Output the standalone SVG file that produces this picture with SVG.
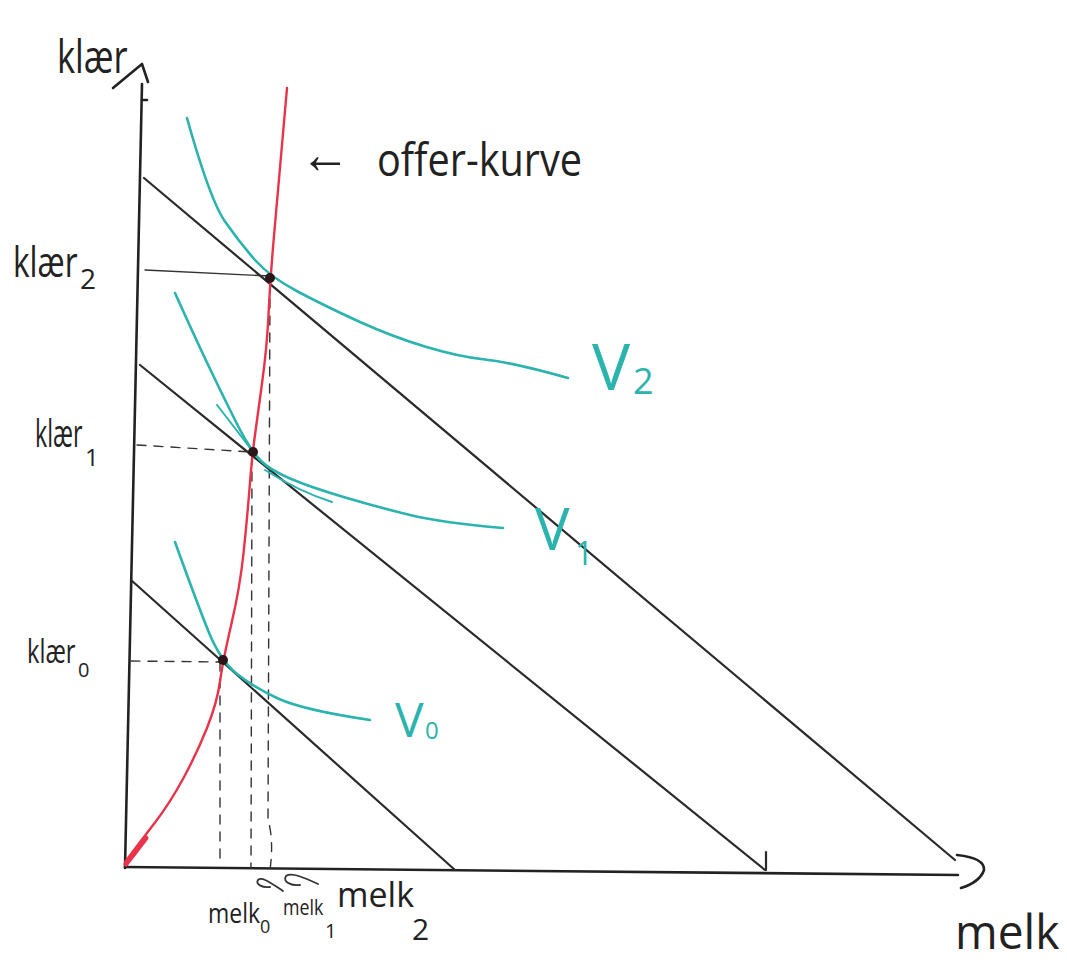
<svg xmlns="http://www.w3.org/2000/svg" width="1067" height="965" viewBox="0 0 1067 965">
<style>
.ax{fill:none;stroke:#222;stroke-width:2.6;stroke-linecap:round;stroke-linejoin:round}
.bl{fill:none;stroke:#2a2a2a;stroke-width:2.2;stroke-linecap:round}
.gd{fill:none;stroke:#333;stroke-width:1.4;stroke-linecap:round}
.dash{stroke-dasharray:9 8}
.red{fill:none;stroke:#e8334a;stroke-width:2.4;stroke-linecap:round}
.teal{fill:none;stroke:#2bb3ad;stroke-width:2.6;stroke-linecap:round}
.t{font-family:"Open Sans","Liberation Sans",sans-serif;font-weight:400;fill:#222}
.tt{font-family:"Open Sans","Liberation Sans",sans-serif;font-weight:400;fill:#2bb3ad}
.pt{fill:#2a1618}
</style>
<rect width="1067" height="965" fill="#ffffff"/>
<g id="axes">
<path class="ax" d="M142,84 L125,868"/>
<path class="ax" d="M113,88 L142,64 L148,82"/>
<path class="ax" d="M125,867 L958,875"/>
<path class="ax" d="M957,855 Q985,858 984,870 Q980,882 961,888"/>
<path class="ax" d="M142,100 L147,100"/>
</g>
<g id="budget-lines">
<path class="bl" d="M144,178 L955,860"/>
<path class="bl" d="M140,365 L765,870"/>
<path class="bl" d="M131,580 L455,870"/>
<path class="bl" d="M766,852 L766,870"/>
</g>
<g id="guides">
<path class="gd" d="M145,270 L270,276"/>
<path class="gd dash" d="M137,445 L252,452"/>
<path class="gd dash" d="M131,661 L221,662"/>
<path class="gd dash" d="M220,662 L220,866"/>
<path class="gd dash" d="M252,455 L251,868"/>
<path class="gd dash" d="M270,282 L268,820 Q274,840 270,870"/>
</g>
<g id="offer-curve">
<path class="red" d="M125,862 Q140,842 155,822.5 Q170,803 183.5,778 Q197,753 207,728 Q217,703 220,681.5 Q223,660 231.5,623.5 Q240,587 243.5,553.5 Q247,520 249.5,488.5 Q252,457 254.5,438.5 Q257,420 262,383.5 Q267,347 268.5,315 Q270,283 273.5,241.5 Q277,200 287,88"/>
<path class="red" style="stroke-width:5" d="M126,864 L146,838"/>
</g>
<g id="indifference-curves">
<path class="teal" d="M187,118 Q210,200 225,221.5 Q240,243 255,260 Q270,277 298.5,292 Q327,307 360,322 Q393,337 426.5,347 Q460,357 485,359.5 Q510,362 568,378"/>
<path class="teal" d="M175,293 Q193,333 206.5,361.5 Q220,390 235,420 Q250,450 260,460 Q270,470 290,478.5 Q310,487 343.5,497 Q377,507 410,515 Q443,523 503,528"/>
<path class="teal" style="stroke-width:2" d="M217,405 Q235,428 250,448 M265,470 Q300,492 332,502"/>
<path class="teal" d="M175,542 Q197,603 208.5,631.5 Q220,660 236.5,673.5 Q253,687 278,698.5 Q303,710 370,720"/>
</g>
<g id="equilibria">
<circle class="pt" cx="270" cy="278" r="5"/>
<circle class="pt" cx="253" cy="452" r="5"/>
<circle class="pt" cx="223" cy="660" r="5"/>
</g>
<g id="marks">
<path class="gd" style="stroke-width:1.8" d="M283,891 C272,884 262,876 258,880 C255,884 262,888 270,887"/>
<path class="gd" style="stroke-width:1.8" d="M318,884 C305,878 292,872 286,876 C282,882 292,886 300,885"/>
</g>
<g id="labels">
<text class="t" transform="translate(57,73) scale(0.75,1)" font-size="46">klær</text>
<text class="t" transform="translate(13,277) scale(0.75,1)" font-size="42">klær</text>
<text class="t" x="80" y="289" font-size="28">2</text>
<text class="t" transform="translate(35,447) scale(0.61,1)" font-size="38">klær</text>
<text class="t" x="85" y="466" font-size="24">1</text>
<text class="t" transform="translate(27,663) scale(0.74,1)" font-size="32">klær</text>
<text class="t" x="78" y="677" font-size="20">0</text>
<text class="t" transform="translate(208,923) scale(0.82,1)" font-size="28">melk</text>
<text class="t" x="260" y="933" font-size="18">0</text>
<text class="t" transform="translate(283,915) scale(0.81,1)" font-size="22">melk</text>
<text class="t" x="325" y="938" font-size="20">1</text>
<text class="t" x="337" y="907" font-size="34">melk</text>
<text class="t" x="412" y="940" font-size="30">2</text>
<text class="t" transform="translate(955,949) scale(0.96,1)" font-size="48">melk</text>
<text class="t" x="300" y="173" font-size="56" textLength="50" lengthAdjust="spacingAndGlyphs">←</text>
<text class="t" x="377" y="176" font-size="46" textLength="205" lengthAdjust="spacingAndGlyphs">offer-kurve</text>
<text class="tt" x="592" y="390" font-size="64">V</text>
<text class="tt" x="633" y="394" font-size="36">2</text>
<text class="tt" x="535" y="550" font-size="58">V</text>
<text class="tt" x="575" y="565" font-size="32">1</text>
<text class="tt" x="395" y="737" font-size="48">V</text>
<text class="tt" x="425" y="739" font-size="24">0</text>
</g>
</svg>
